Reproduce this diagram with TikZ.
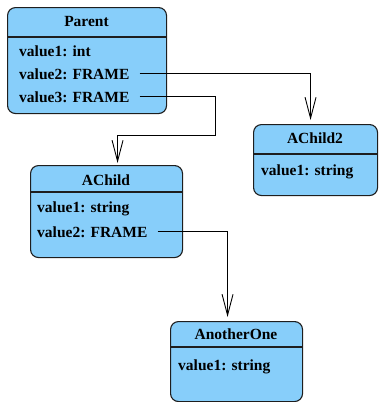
\documentclass[tikz,border=0pt]{standalone}
\usepackage{fontspec}
\setmainfont{Liberation Serif}[BoldFont={Liberation Serif Bold}]
\newfontfamily\umlfont{Liberation Serif Bold}
\usetikzlibrary{arrows.meta}
\definecolor{classfill}{RGB}{135,206,250}
\definecolor{classline}{RGB}{30,30,30}
\tikzset{
  classbox/.style={draw=classline, fill=classfill, line width=1.1pt,
    rounded corners=8pt, rectangle, anchor=north west, inner sep=0pt},
  divider/.style={draw=classline, line width=1.1pt},
  title/.style={font=\umlfont\fontsize{15.5}{18}\selectfont, anchor=base, inner sep=0pt},
  field/.style={font=\umlfont\fontsize{15.5}{18}\selectfont, anchor=base west, inner sep=0pt},
  conn/.style={draw=black, line width=0.9pt,
    -{Straight Barb[length=21pt,width=11pt,line width=0.9pt]}}
}
\begin{document}
\begin{tikzpicture}[x=1pt,y=-1pt]
\useasboundingbox (0,0) rectangle (378,402);

% class boxes
\node[classbox, minimum width=159pt, minimum height=106pt] (parent) at (7,7) {};
\node[classbox, minimum width=124pt, minimum height=71pt] (achildtwo) at (253,124) {};
\node[classbox, minimum width=152pt, minimum height=92pt] (achild) at (30,165) {};
\node[classbox, minimum width=132pt, minimum height=80pt] (another) at (170,321) {};

% header dividers
\draw[divider] (parent.west |- 0,37) -- (parent.east |- 0,37);
\draw[divider] (achildtwo.west |- 0,154) -- (achildtwo.east |- 0,154);
\draw[divider] (achild.west |- 0,192) -- (achild.east |- 0,192);
\draw[divider] (another.west |- 0,347) -- (another.east |- 0,347);

% Parent
\node[title] (ptitle) at (86.5,26) {Parent};
\node[field] (pone) at (19,56) {value1: int};
\node[field] (ptwo) at (19,79) {value2: FRAME};
\node[field] (pthree) at (19,102) {value3: FRAME};

% AChild2
\node[title] (cttitle) at (315,143) {AChild2};
\node[field] (ctone) at (261,175) {value1: string};

% AChild
\node[title] (ctitle) at (106,185) {AChild};
\node[field] (cone) at (37,212) {value1: string};
\node[field] (ctwo) at (37,237) {value2: FRAME};

% AnotherOne
\node[title] (atitle) at (236,339) {AnotherOne};
\node[field] (aone) at (178,370) {value1: string};

% connectors
\draw[conn] ([shift={(10,-6)}]ptwo.base east) -| ([xshift=-5pt,yshift=4pt]achildtwo.north);
\draw[conn] ([shift={(10,-6)}]pthree.base east) -| (215,135) -| ([xshift=11pt,yshift=2pt]achild.north);
\draw[conn] ([shift={(10,-6)}]ctwo.base east) -| ([xshift=-9pt,yshift=4pt]another.north);
\end{tikzpicture}
\end{document}
